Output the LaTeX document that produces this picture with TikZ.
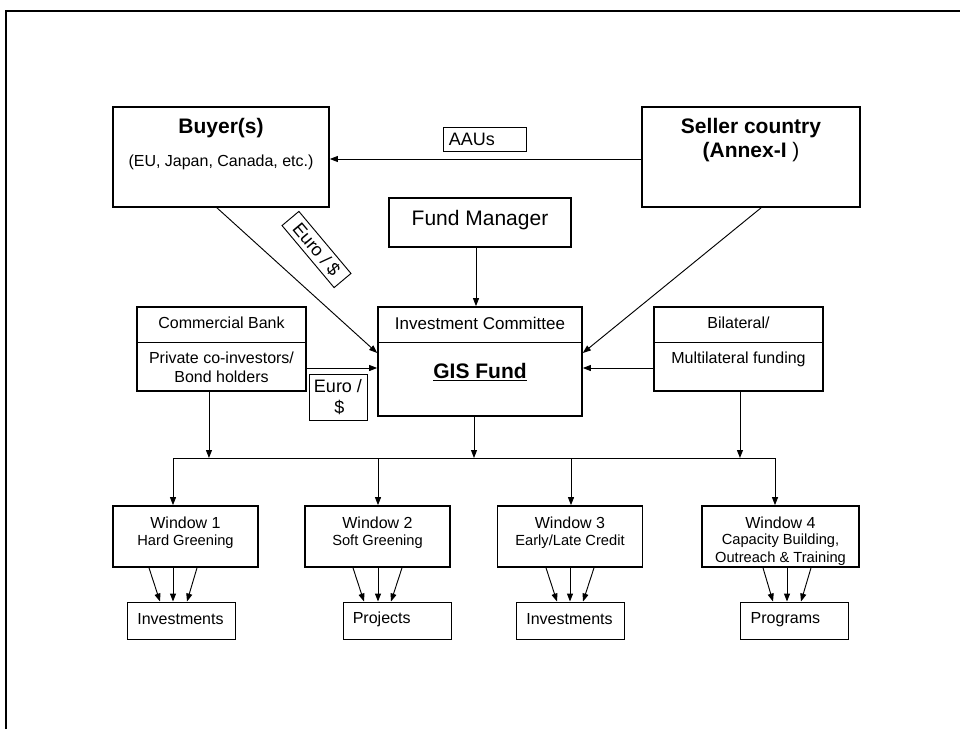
\documentclass[tikz,border=0pt]{standalone}
\usepackage{fontspec}
\setmainfont{Liberation Sans}
\usetikzlibrary{arrows.meta,calc}
\begin{document}
\begin{tikzpicture}[x=0.75pt,y=-0.75pt,
  box/.style={draw,line width=1.3pt,inner sep=0pt},
  thinbox/.style={draw,line width=0.7pt,inner sep=0pt},
  txt/.style={inner sep=0pt,align=center},
  arr/.style={line width=0.7pt,-{Triangle[length=6pt,width=4.5pt]}},
  conn/.style={line width=0.7pt},
  divider/.style={line width=0.9pt},
  fBig/.style={font=\fontsize{15.75}{18}\selectfont},
  fBigB/.style={font=\fontsize{15.75}{18}\selectfont\bfseries},
  fM/.style={font=\fontsize{12}{14.25}\selectfont},
  fIC/.style={font=\fontsize{12.75}{15}\selectfont},
  fE/.style={font=\fontsize{13.5}{15.75}\selectfont},
  fS/.style={font=\fontsize{11}{13.5}\selectfont},
  winbox/.style={box,minimum width=108.75pt,minimum height=45.75pt},
  botbox/.style={thinbox,minimum width=81pt,minimum height=27.75pt}
]
\useasboundingbox (0,0) rectangle (960,729);
% frame
\draw[line width=1pt] (6,729) -- (6,11) -- (960,11);

% top boxes
\node[box,minimum width=162pt,minimum height=75pt] (buyer) at (221,157) {};
\node[txt,fBigB] (buyerT) at (221,128) {Buyer(s)};
\node[txt,fM] (buyerS) at (221,162) {(EU, Japan, Canada, etc.)};

\node[box,minimum width=163.5pt,minimum height=75pt] (seller) at (751,157) {};
\node[txt,fBigB] (sellerT) at (751,128) {Seller country};
\node[txt,fBig] (sellerS) at (751,152) {\textbf{(Annex-I} )};

\node[thinbox,minimum width=62.25pt,minimum height=18pt] (aau) at (484.5,139) {};
\node[txt,fE,anchor=west] (aauT) at ([xshift=4.5pt]aau.west) {AAUs};

\node[box,minimum width=136.5pt,minimum height=36.75pt] (fm) at (480,222.5) {};
\node[txt,fBig] (fmT) at (480,220) {Fund Manager};

% middle row
\node[box,minimum width=153pt,minimum height=81.75pt] (gis) at (480,361.5) {};
\draw[divider] ([yshift=-27pt]gis.north west) -- ([yshift=-27pt]gis.north east);
\node[txt,fIC] (gisT) at (480,323) {Investment Committee};
\node[txt,fBigB] (gisS) at (480,372) {\underline{GIS Fund}};

\node[box,minimum width=126.75pt,minimum height=63pt] (cb) at (221.5,349) {};
\draw[divider] ([yshift=-27pt]cb.north west) -- ([yshift=-27pt]cb.north east);
\node[txt,fM] (cbT) at (221.5,323) {Commercial Bank};
\node[txt,fM] (cbS) at (221.5,367.5) {Private co-investors/\\Bond holders};

\node[box,minimum width=126.75pt,minimum height=63pt] (bil) at (738.5,349) {};
\draw[divider] ([yshift=-27pt]bil.north west) -- ([yshift=-27pt]bil.north east);
\node[txt,fM] (bilT) at (738.5,323) {Bilateral/};
\node[txt,fM] (bilS) at (738.5,359) {Multilateral funding};

\node[thinbox,minimum width=43.5pt,minimum height=34.5pt,align=center,fE] (euro) at (338,397) {Euro /\\ \,\$};
\node[thinbox,rotate=-50,minimum width=60.75pt,minimum height=16.5pt,fE] (eurorot) at (316.5,249.5) {Euro / \$};

% connectors top
\draw[arr] ([yshift=-1.5pt]seller.west) -- ([yshift=-1.5pt]buyer.east);
\draw[arr] ([xshift=-3pt]buyer.south) -- ([yshift=6.4pt]gis.west);
\draw[arr] ([xshift=7.5pt]seller.south) -- ([yshift=6.4pt]gis.east);
\draw[arr] ([xshift=-3pt]fm.south) -- ([xshift=-3pt]gis.north);
\draw[arr] ([yshift=-14.25pt]cb.east) coordinate (cbo) -- (cbo -| gis.west);
\draw[arr] ([yshift=-14.25pt]bil.west) coordinate (bio) -- (bio -| gis.east);

% distribution bar
\coordinate (b1) at (173,458);
\coordinate (b2) at (378,458);
\coordinate (b3) at (571,458);
\coordinate (b4) at (775,458);
\draw[conn] (b1) -- (b4);
\draw[arr] ([xshift=-9.4pt]cb.south) coordinate (cbd) -- (cbd |- b1);
\draw[arr] ([xshift=-4.5pt]gis.south) coordinate (gisd) -- (gisd |- b1);
\draw[arr] ([xshift=1.1pt]bil.south) coordinate (bild) -- (bild |- b1);

% windows
\node[winbox] (w1) at (185.5,536.5) {};
\node[winbox] (w2) at (377.5,536.5) {};
\node[winbox] (w3) at (570,536.5) {};
\node[winbox,minimum width=117.75pt] (w4) at (780.5,536.5) {};
\node[txt,fM] (w1T) at (185.5,523) {Window 1};
\node[txt,fS] (w1S) at (185.5,542) {Hard Greening};
\node[txt,fM] (w2T) at (377.5,523) {Window 2};
\node[txt,fS] (w2S) at (377.5,542) {Soft Greening};
\node[txt,fM] (w3T) at (570,523) {Window 3};
\node[txt,fS] (w3S) at (570,542) {Early/Late Credit};
\node[txt,fM] (w4T) at (780.5,523) {Window 4};
\node[txt,fS] (w4S) at (780.5,541) {Capacity Building,};
\node[txt,fS] (w4U) at (780.5,559) {Outreach \& Training};

\draw[arr] (b1) -- (b1 |- w1.north);
\draw[arr] (b2) -- (b2 |- w2.north);
\draw[arr] (b3) -- (b3 |- w3.north);
\draw[arr] (b4) -- (b4 |- w4.north);

% bottom boxes
\node[botbox] (i1) at (181,620.5) {};
\node[botbox] (p2) at (397,620.5) {};
\node[botbox] (i3) at (570,620.5) {};
\node[botbox] (pr) at (794,620.5) {};
\node[txt,fM,anchor=west] (i1T) at ([xshift=7.9pt,yshift=1pt]i1.west) {Investments};
\node[txt,fM,anchor=west] (p2T) at ([xshift=7.5pt,yshift=1pt]p2.west) {Projects};
\node[txt,fM,anchor=west] (i3T) at ([xshift=7.9pt,yshift=1pt]i3.west) {Investments};
\node[txt,fM,anchor=west] (prT) at ([xshift=8.2pt,yshift=1pt]pr.west) {Programs};

% window to bottom arrows
\draw[arr] ($(w1.south)+(-36.5,0)$) -- ($(i1.north)+(-21,0)$);
\draw[arr] ($(w1.south)+(-12.5,0)$) -- ($(i1.north)+(-8,0)$);
\draw[arr] ($(w1.south)+(11.5,0)$) -- ($(i1.north)+(6,0)$);
\draw[arr] ($(w2.south)+(-24.5,0)$) -- ($(p2.north)+(-33,0)$);
\draw[arr] ($(w2.south)+(0.5,0)$) -- ($(p2.north)+(-19,0)$);
\draw[arr] ($(w2.south)+(24.5,0)$) -- ($(p2.north)+(-6,0)$);
\draw[arr] ($(w3.south)+(-24,0)$) -- ($(i3.north)+(-13,0)$);
\draw[arr] ($(w3.south)+(0,0)$) -- ($(i3.north)+(0,0)$);
\draw[arr] ($(w3.south)+(24,0)$) -- ($(i3.north)+(13,0)$);
\draw[arr] ($(w4.south)+(-17.5,0)$) -- ($(pr.north)+(-21,0)$);
\draw[arr] ($(w4.south)+(6.5,0)$) -- ($(pr.north)+(-7,0)$);
\draw[arr] ($(w4.south)+(30.5,0)$) -- ($(pr.north)+(7,0)$);
\end{tikzpicture}
\end{document}
